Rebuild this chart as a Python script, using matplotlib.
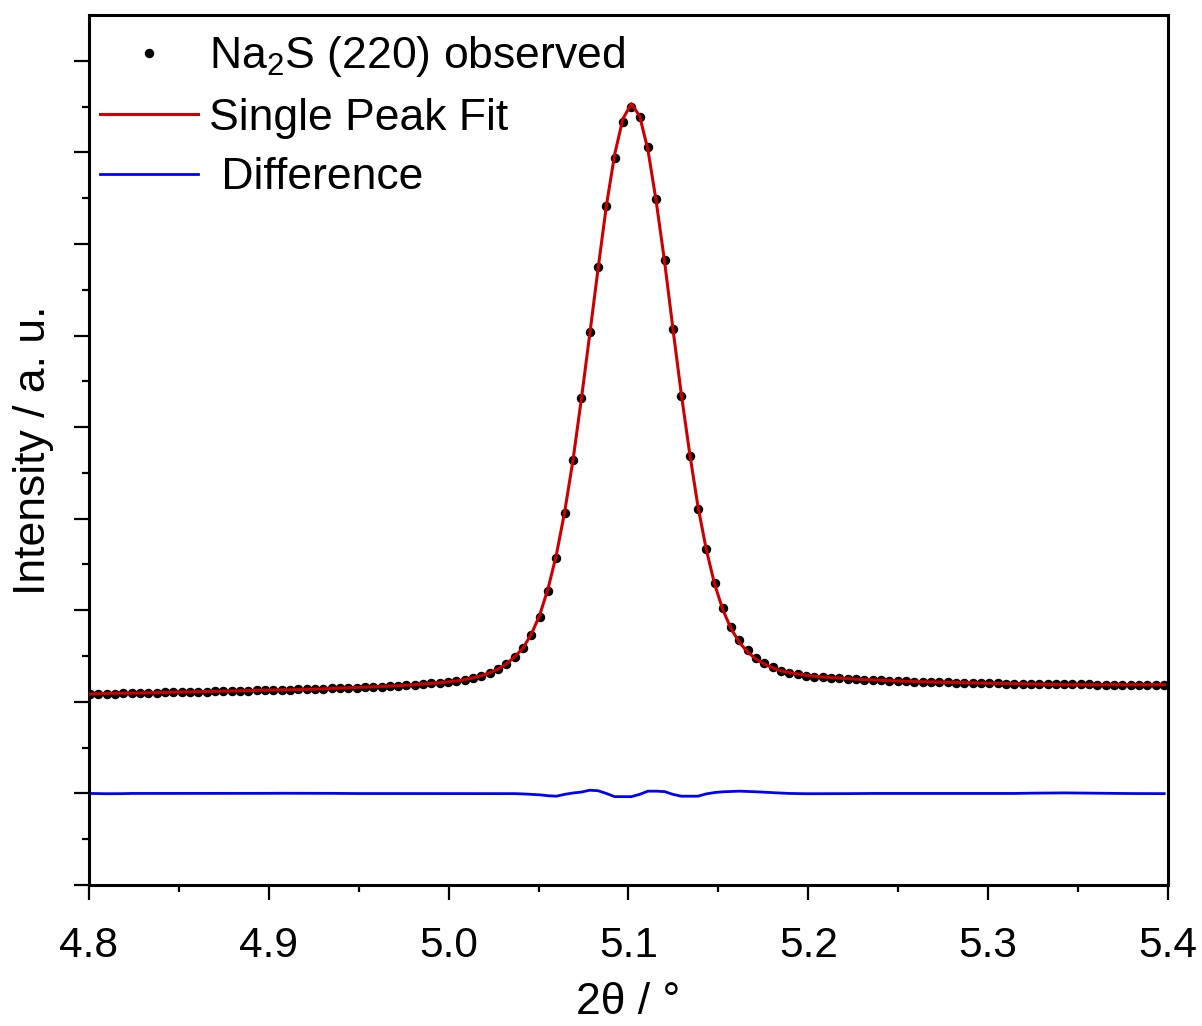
# Na2S (220) reflection: observed points, single peak fit and difference curve

import numpy as np
import matplotlib
matplotlib.use('Agg')
import matplotlib.pyplot as plt

plt.rcParams['font.family'] = ['Liberation Sans', 'DejaVu Sans']
plt.rcParams['mathtext.fontset'] = 'custom'
plt.rcParams['mathtext.rm'] = 'Liberation Sans'
plt.rcParams['mathtext.it'] = 'Liberation Sans:italic'

# 2theta positions of the measured points (deg)
two_theta = [
    4.8006, 4.8052, 4.8099, 4.8145, 4.8191, 4.8238, 4.8284, 4.8330, 4.8376, 4.8423,
    4.8469, 4.8515, 4.8562, 4.8608, 4.8654, 4.8700, 4.8747, 4.8793, 4.8839, 4.8886,
    4.8932, 4.8978, 4.9025, 4.9071, 4.9117, 4.9164, 4.9210, 4.9256, 4.9302, 4.9349,
    4.9395, 4.9441, 4.9488, 4.9534, 4.9580, 4.9627, 4.9673, 4.9719, 4.9765, 4.9812,
    4.9858, 4.9904, 4.9951, 4.9997, 5.0043, 5.0090, 5.0136, 5.0182, 5.0228, 5.0275,
    5.0321, 5.0367, 5.0414, 5.0460, 5.0506, 5.0553, 5.0599, 5.0645, 5.0691, 5.0738,
    5.0784, 5.0830, 5.0877, 5.0923, 5.0969, 5.1016, 5.1062, 5.1108, 5.1154, 5.1201,
    5.1247, 5.1293, 5.1340, 5.1386, 5.1432, 5.1479, 5.1525, 5.1571, 5.1617, 5.1664,
    5.1710, 5.1756, 5.1803, 5.1849, 5.1895, 5.1942, 5.1988, 5.2034, 5.2080, 5.2127,
    5.2173, 5.2219, 5.2266, 5.2312, 5.2358, 5.2405, 5.2451, 5.2497, 5.2543, 5.2590,
    5.2636, 5.2682, 5.2729, 5.2775, 5.2821, 5.2868, 5.2914, 5.2960, 5.3006, 5.3053,
    5.3099, 5.3145, 5.3192, 5.3238, 5.3284, 5.3331, 5.3377, 5.3423, 5.3469, 5.3516,
    5.3562, 5.3608, 5.3655, 5.3701, 5.3747, 5.3794, 5.3840, 5.3886, 5.3932, 5.3979,
]

# observed intensity (arb. units)
observed = [
    2.085, 2.087, 2.089, 2.091, 2.093, 2.095, 2.097, 2.099, 2.101, 2.103,
    2.105, 2.107, 2.109, 2.111, 2.113, 2.115, 2.117, 2.119, 2.121, 2.123,
    2.126, 2.128, 2.130, 2.132, 2.134, 2.136, 2.139, 2.141, 2.144, 2.147,
    2.150, 2.153, 2.156, 2.159, 2.163, 2.167, 2.171, 2.176, 2.181, 2.187,
    2.194, 2.201, 2.209, 2.218, 2.229, 2.242, 2.262, 2.285, 2.318, 2.357,
    2.414, 2.490, 2.584, 2.730, 2.930, 3.213, 3.574, 4.062, 4.637, 5.321,
    6.038, 6.744, 7.414, 7.941, 8.331, 8.496, 8.387, 8.055, 7.494, 6.825,
    6.068, 5.342, 4.688, 4.108, 3.665, 3.295, 3.022, 2.819, 2.673, 2.563,
    2.484, 2.426, 2.378, 2.342, 2.320, 2.301, 2.287, 2.276, 2.269, 2.262,
    2.256, 2.251, 2.246, 2.242, 2.238, 2.234, 2.231, 2.228, 2.225, 2.222,
    2.219, 2.217, 2.215, 2.213, 2.211, 2.209, 2.207, 2.205, 2.203, 2.202,
    2.200, 2.199, 2.198, 2.197, 2.196, 2.195, 2.194, 2.193, 2.192, 2.191,
    2.190, 2.189, 2.189, 2.188, 2.188, 2.187, 2.187, 2.186, 2.186, 2.185,
]

# observed - fit
difference = [
    0.000, -0.002, -0.003, -0.003, -0.002, 0.000, 0.000, 0.001, 0.001, 0.000,
    0.000, 0.000, 0.000, 0.000, 0.000, 0.001, 0.001, 0.001, 0.000, 0.000,
    0.000, 0.001, 0.002, 0.002, 0.002, 0.002, 0.002, 0.002, 0.002, 0.001,
    0.000, 0.000, -0.001, -0.001, -0.001, -0.001, -0.001, 0.000, 0.000, 0.000,
    0.000, 0.000, 0.000, 0.000, 0.000, 0.000, 0.000, 0.000, 0.000, 0.000,
    0.000, -0.002, -0.005, -0.010, -0.015, -0.025, -0.030, -0.010, 0.005, 0.015,
    0.035, 0.030, 0.000, -0.035, -0.035, -0.035, -0.010, 0.025, 0.025, 0.020,
    -0.010, -0.030, -0.030, -0.030, -0.005, 0.010, 0.018, 0.022, 0.025, 0.022,
    0.018, 0.013, 0.008, 0.004, 0.000, -0.002, -0.003, -0.003, -0.002, -0.002,
    -0.002, -0.002, -0.001, -0.001, 0.000, 0.000, 0.000, 0.000, 0.000, 0.000,
    0.000, 0.000, 0.000, 0.000, 0.000, 0.000, 0.000, 0.000, 0.000, 0.000,
    0.000, 0.000, 0.002, 0.003, 0.004, 0.005, 0.006, 0.006, 0.005, 0.004,
    0.003, 0.002, 0.001, 0.000, 0.000, -0.001, -0.001, -0.002, -0.002, -0.002,
]
diff_offset = 1.0

x = np.array(two_theta)
obs = np.array(observed)
diff = np.array(difference)
fit = obs - diff

fig = plt.figure(figsize=(12.02, 10.26), dpi=100)
ax = fig.add_axes([0.074, 0.1374, 0.8977, 0.848])

ax.plot(x, obs, 'o', color='black', markersize=5.8, ls='none', label='Na$_2$S (220) observed', zorder=3)
ax.plot(x, fit, color='#CC0000', lw=2.2, label='Single Peak Fit', zorder=4)
ax.plot(x, diff + diff_offset, color='#0000FF', lw=2.0, label=' Difference', zorder=2)

ax.set_xlim(4.8, 5.4)
ax.set_ylim(0, 9.5)
ax.set_xticks([4.8, 4.9, 5.0, 5.1, 5.2, 5.3, 5.4])
ax.set_xticklabels(['4.8', '4.9', '5.0', '5.1', '5.2', '5.3', '5.4'])
ax.set_xticks(np.arange(4.85, 5.4, 0.1), minor=True)
ax.set_yticks(np.arange(0, 10, 1))
ax.set_yticks(np.arange(0.5, 9.5, 1), minor=True)
ax.set_yticklabels([])

for s in ax.spines.values():
    s.set_linewidth(2.2)
ax.tick_params(which='major', direction='out', length=10.5, width=1.6, labelsize=30.5, pad=19)
ax.tick_params(which='minor', direction='out', length=5, width=1.6)
ax.tick_params(top=False, right=False)

ax.set_xlabel('2\u03b8 / \u00b0', fontsize=32)
ax.xaxis.set_label_coords(0.5, -0.111)
ax.set_ylabel('Intensity / a. u.', fontsize=32)
ax.yaxis.set_label_coords(-0.032, 0.5)

ax.legend(loc='upper left', bbox_to_anchor=(0.0102, 0.978), frameon=False, fontsize=32,
          handlelength=2.2, handletextpad=0.25, labelspacing=0.42, borderpad=0,
          borderaxespad=0, numpoints=1, markerscale=1.0)

fig.savefig('out.png', dpi=100)
